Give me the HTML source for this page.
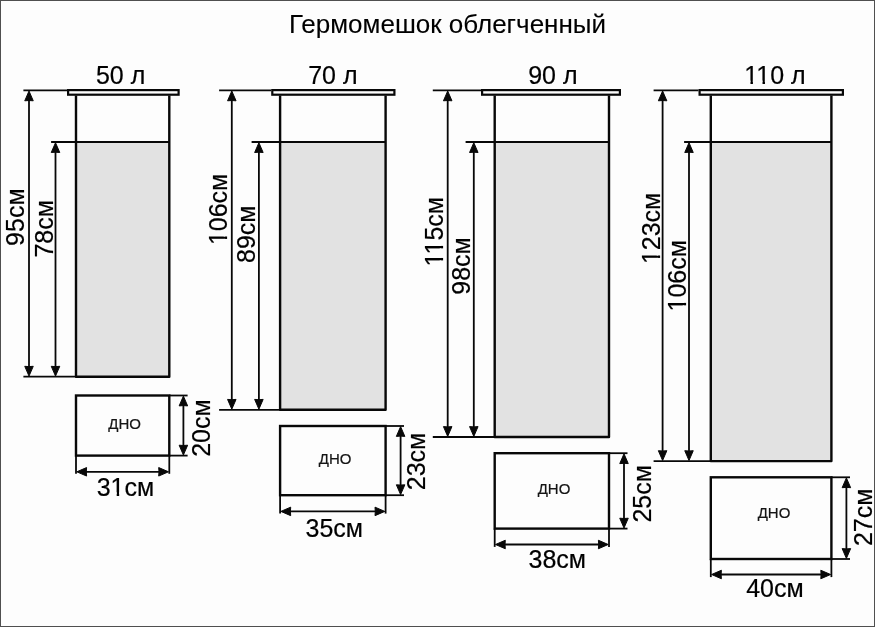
<!DOCTYPE html>
<html><head><meta charset="utf-8"><style>
html,body{margin:0;padding:0;background:#fdfdfd;}
svg{display:block;will-change:transform;}
text{font-family:"Liberation Sans",sans-serif;}
</style></head><body>
<svg width="875" height="627" viewBox="0 0 875 627">
<defs><mask id="m4" maskUnits="userSpaceOnUse" x="-2000" y="-2000" width="4000" height="4000"><rect x="-2000" y="-2000" width="4000" height="4000" fill="#fff"/><rect x="745.01" y="80.53" width="5.46" height="4.47" fill="#000"/><rect x="752.92" y="80.53" width="5.27" height="4.47" fill="#000"/><rect x="757.06" y="80.53" width="5.46" height="4.47" fill="#000"/><rect x="764.97" y="80.53" width="5.27" height="4.47" fill="#000"/></mask><mask id="m7" maskUnits="userSpaceOnUse" x="-2000" y="-2000" width="4000" height="4000"><rect x="-2000" y="-2000" width="4000" height="4000" fill="#fff"/><rect x="-35.00" y="-3.37" width="5.46" height="4.47" fill="#000"/><rect x="-27.09" y="-3.37" width="5.27" height="4.47" fill="#000"/></mask><mask id="m9" maskUnits="userSpaceOnUse" x="-2000" y="-2000" width="4000" height="4000"><rect x="-2000" y="-2000" width="4000" height="4000" fill="#fff"/><rect x="-34.07" y="-3.37" width="5.46" height="4.47" fill="#000"/><rect x="-26.16" y="-3.37" width="5.27" height="4.47" fill="#000"/><rect x="-22.02" y="-3.37" width="5.46" height="4.47" fill="#000"/><rect x="-14.11" y="-3.37" width="5.27" height="4.47" fill="#000"/></mask><mask id="m11" maskUnits="userSpaceOnUse" x="-2000" y="-2000" width="4000" height="4000"><rect x="-2000" y="-2000" width="4000" height="4000" fill="#fff"/><rect x="-35.00" y="-3.37" width="5.46" height="4.47" fill="#000"/><rect x="-27.09" y="-3.37" width="5.27" height="4.47" fill="#000"/></mask><mask id="m12" maskUnits="userSpaceOnUse" x="-2000" y="-2000" width="4000" height="4000"><rect x="-2000" y="-2000" width="4000" height="4000" fill="#fff"/><rect x="-35.00" y="-3.37" width="5.46" height="4.47" fill="#000"/><rect x="-27.09" y="-3.37" width="5.27" height="4.47" fill="#000"/></mask><mask id="m17" maskUnits="userSpaceOnUse" x="-2000" y="-2000" width="4000" height="4000"><rect x="-2000" y="-2000" width="4000" height="4000" fill="#fff"/><rect x="111.24" y="492.23" width="5.46" height="4.47" fill="#000"/><rect x="119.16" y="492.23" width="5.27" height="4.47" fill="#000"/></mask></defs>
<rect x="0" y="0" width="875" height="627" fill="#fdfdfd"/>
<rect x="76" y="141.9" width="93.30000000000001" height="234.79999999999998" fill="#e2e2e2" stroke="none"/><rect x="280.1" y="141.9" width="105.5" height="267.9" fill="#e2e2e2" stroke="none"/><rect x="494.7" y="141.9" width="114.30000000000001" height="295.1" fill="#e2e2e2" stroke="none"/><rect x="710.8" y="141.9" width="120.60000000000002" height="319.20000000000005" fill="#e2e2e2" stroke="none"/>
<g stroke="#080808" fill="#080808">
<rect x="68.1" y="90.1" width="110.49999999999999" height="4.599999999999997" fill="none" stroke-width="2.2"/><path d="M76 95.6V376.7H169.3V95.6" fill="none" stroke-width="2.4" stroke-linejoin="round"/><line x1="23.4" y1="376.7" x2="76" y2="376.7" stroke-width="1.8"/><line x1="51.1" y1="141.9" x2="169.3" y2="141.9" stroke-width="2.0"/><line x1="23.4" y1="90.4" x2="67" y2="90.4" stroke-width="1.8"/><line x1="29" y1="99.2" x2="29" y2="367.9" stroke-width="1.8"/><path d="M29.00 91.00L33.25 100.80L29.00 100.50L24.75 100.80Z"/><path d="M29.00 376.10L24.75 366.30L29.00 366.60L33.25 366.30Z"/><line x1="55.5" y1="150.70000000000002" x2="55.5" y2="367.9" stroke-width="1.8"/><path d="M55.50 142.70L59.75 152.50L55.50 152.20L51.25 152.50Z"/><path d="M55.50 376.10L51.25 366.30L55.50 366.60L59.75 366.30Z"/><rect x="76" y="395.5" width="93.30000000000001" height="60.10000000000002" fill="none" stroke-width="2.4"/><line x1="169.3" y1="395.5" x2="187.6" y2="395.5" stroke-width="1.8"/><line x1="169.3" y1="455.6" x2="187.6" y2="455.6" stroke-width="1.8"/><line x1="183.4" y1="404.3" x2="183.4" y2="446.8" stroke-width="1.8"/><path d="M183.40 396.10L187.65 405.90L183.40 405.60L179.15 405.90Z"/><path d="M183.40 455.00L179.15 445.20L183.40 445.50L187.65 445.20Z"/><line x1="76" y1="455.6" x2="76" y2="473.8" stroke-width="1.8"/><line x1="169.3" y1="455.6" x2="169.3" y2="473.8" stroke-width="1.8"/><line x1="84.8" y1="471.8" x2="160.5" y2="471.8" stroke-width="1.8"/><path d="M76.80 471.80L86.60 467.55L86.30 471.80L86.60 476.05Z"/><path d="M168.50 471.80L158.70 476.05L159.00 471.80L158.70 467.55Z"/><rect x="272.3" y="90.1" width="122.10000000000001" height="4.599999999999997" fill="none" stroke-width="2.2"/><path d="M280.1 95.6V409.8H385.6V95.6" fill="none" stroke-width="2.4" stroke-linejoin="round"/><line x1="219.1" y1="409.8" x2="280.1" y2="409.8" stroke-width="1.8"/><line x1="251.6" y1="141.9" x2="385.6" y2="141.9" stroke-width="2.0"/><line x1="219.1" y1="90.4" x2="271.2" y2="90.4" stroke-width="1.8"/><line x1="231.8" y1="99.2" x2="231.8" y2="401.0" stroke-width="1.8"/><path d="M231.80 91.00L236.05 100.80L231.80 100.50L227.55 100.80Z"/><path d="M231.80 409.20L227.55 399.40L231.80 399.70L236.05 399.40Z"/><line x1="258.9" y1="150.70000000000002" x2="258.9" y2="401.0" stroke-width="1.8"/><path d="M258.90 142.70L263.15 152.50L258.90 152.20L254.65 152.50Z"/><path d="M258.90 409.20L254.65 399.40L258.90 399.70L263.15 399.40Z"/><rect x="280.1" y="426" width="105.5" height="69.19999999999999" fill="none" stroke-width="2.4"/><line x1="385.6" y1="426" x2="404" y2="426" stroke-width="1.8"/><line x1="385.6" y1="495.2" x2="404" y2="495.2" stroke-width="1.8"/><line x1="400.6" y1="434.8" x2="400.6" y2="486.4" stroke-width="1.8"/><path d="M400.60 426.60L404.85 436.40L400.60 436.10L396.35 436.40Z"/><path d="M400.60 494.60L396.35 484.80L400.60 485.10L404.85 484.80Z"/><line x1="280.1" y1="495.2" x2="280.1" y2="513.6" stroke-width="1.8"/><line x1="385.6" y1="495.2" x2="385.6" y2="513.6" stroke-width="1.8"/><line x1="288.90000000000003" y1="511.4" x2="376.8" y2="511.4" stroke-width="1.8"/><path d="M280.90 511.40L290.70 507.15L290.40 511.40L290.70 515.65Z"/><path d="M384.80 511.40L375.00 515.65L375.30 511.40L375.00 507.15Z"/><rect x="482.1" y="90.1" width="137.8" height="4.599999999999997" fill="none" stroke-width="2.2"/><path d="M494.7 95.6V437H609V95.6" fill="none" stroke-width="2.4" stroke-linejoin="round"/><line x1="432.8" y1="437" x2="494.7" y2="437" stroke-width="1.8"/><line x1="465.6" y1="141.9" x2="609" y2="141.9" stroke-width="2.0"/><line x1="432.8" y1="90.4" x2="481" y2="90.4" stroke-width="1.8"/><line x1="447.7" y1="99.2" x2="447.7" y2="428.2" stroke-width="1.8"/><path d="M447.70 91.00L451.95 100.80L447.70 100.50L443.45 100.80Z"/><path d="M447.70 436.40L443.45 426.60L447.70 426.90L451.95 426.60Z"/><line x1="473.8" y1="150.70000000000002" x2="473.8" y2="428.2" stroke-width="1.8"/><path d="M473.80 142.70L478.05 152.50L473.80 152.20L469.55 152.50Z"/><path d="M473.80 436.40L469.55 426.60L473.80 426.90L478.05 426.60Z"/><rect x="494.7" y="453.2" width="114.30000000000001" height="75.40000000000003" fill="none" stroke-width="2.4"/><line x1="609" y1="453.2" x2="627.5" y2="453.2" stroke-width="1.8"/><line x1="609" y1="528.6" x2="627.5" y2="528.6" stroke-width="1.8"/><line x1="624" y1="462.0" x2="624" y2="519.8000000000001" stroke-width="1.8"/><path d="M624.00 453.80L628.25 463.60L624.00 463.30L619.75 463.60Z"/><path d="M624.00 528.00L619.75 518.20L624.00 518.50L628.25 518.20Z"/><line x1="494.7" y1="528.6" x2="494.7" y2="546.9" stroke-width="1.8"/><line x1="609" y1="528.6" x2="609" y2="546.9" stroke-width="1.8"/><line x1="503.5" y1="544.5" x2="600.2" y2="544.5" stroke-width="1.8"/><path d="M495.50 544.50L505.30 540.25L505.00 544.50L505.30 548.75Z"/><path d="M608.20 544.50L598.40 548.75L598.70 544.50L598.40 540.25Z"/><rect x="699.6" y="90.1" width="143.3" height="4.599999999999997" fill="none" stroke-width="2.2"/><path d="M710.8 95.6V461.1H831.4V95.6" fill="none" stroke-width="2.4" stroke-linejoin="round"/><line x1="653.6" y1="461.1" x2="710.8" y2="461.1" stroke-width="1.8"/><line x1="684.1" y1="141.9" x2="831.4" y2="141.9" stroke-width="2.0"/><line x1="653.6" y1="90.4" x2="698.5" y2="90.4" stroke-width="1.8"/><line x1="662.6" y1="99.2" x2="662.6" y2="452.3" stroke-width="1.8"/><path d="M662.60 91.00L666.85 100.80L662.60 100.50L658.35 100.80Z"/><path d="M662.60 460.50L658.35 450.70L662.60 451.00L666.85 450.70Z"/><line x1="689" y1="150.70000000000002" x2="689" y2="452.3" stroke-width="1.8"/><path d="M689.00 142.70L693.25 152.50L689.00 152.20L684.75 152.50Z"/><path d="M689.00 460.50L684.75 450.70L689.00 451.00L693.25 450.70Z"/><rect x="710.8" y="477.3" width="120.60000000000002" height="81.69999999999999" fill="none" stroke-width="2.4"/><line x1="831.4" y1="477.3" x2="850" y2="477.3" stroke-width="1.8"/><line x1="831.4" y1="559" x2="850" y2="559" stroke-width="1.8"/><line x1="846.4" y1="486.1" x2="846.4" y2="550.2" stroke-width="1.8"/><path d="M846.40 477.90L850.65 487.70L846.40 487.40L842.15 487.70Z"/><path d="M846.40 558.40L842.15 548.60L846.40 548.90L850.65 548.60Z"/><line x1="710.8" y1="559" x2="710.8" y2="577.1" stroke-width="1.8"/><line x1="831.4" y1="559" x2="831.4" y2="577.1" stroke-width="1.8"/><line x1="719.5999999999999" y1="574.5" x2="822.6" y2="574.5" stroke-width="1.8"/><path d="M711.60 574.50L721.40 570.25L721.10 574.50L721.40 578.75Z"/><path d="M830.60 574.50L820.80 578.75L821.10 574.50L820.80 570.25Z"/>
</g>
<g fill="#000">
<text x="447.5" y="32.6" font-size="26" text-anchor="middle" fill="#000" stroke="#000" stroke-width="0.1">Гермомешок облегченный</text><text x="120.6" y="83.9" font-size="25" text-anchor="middle" fill="#000" stroke="#000" stroke-width="0.2">50 л</text><text x="332.9" y="83.9" font-size="25" text-anchor="middle" fill="#000" stroke="#000" stroke-width="0.2">70 л</text><text x="552.9" y="83.9" font-size="25" text-anchor="middle" fill="#000" stroke="#000" stroke-width="0.2">90 л</text><text mask="url(#m4)" x="775.0" y="83.9" font-size="25" text-anchor="middle" fill="#000" stroke="#000" stroke-width="0.2">110 л</text><text transform="translate(24.3 217.15) rotate(-90)" font-size="25" text-anchor="middle" stroke="#000" stroke-width="0.2">95см</text><text transform="translate(53 228.85000000000002) rotate(-90)" font-size="25" text-anchor="middle" stroke="#000" stroke-width="0.2">78см</text><text mask="url(#m7)" transform="translate(227.1 209.39999999999998) rotate(-90)" font-size="25" text-anchor="middle" stroke="#000" stroke-width="0.2">106см</text><text transform="translate(254.9 234.2) rotate(-90)" font-size="25" text-anchor="middle" stroke="#000" stroke-width="0.2">89см</text><text mask="url(#m9)" transform="translate(443.1 231.8) rotate(-90)" font-size="25" text-anchor="middle" stroke="#000" stroke-width="0.2">115см</text><text transform="translate(470 265.95) rotate(-90)" font-size="25" text-anchor="middle" stroke="#000" stroke-width="0.2">98см</text><text mask="url(#m11)" transform="translate(660.1 228.39999999999998) rotate(-90)" font-size="25" text-anchor="middle" stroke="#000" stroke-width="0.2">123см</text><text mask="url(#m12)" transform="translate(686.1 275.8) rotate(-90)" font-size="25" text-anchor="middle" stroke="#000" stroke-width="0.2">106см</text><text transform="translate(210.2 428.05) rotate(-90)" font-size="25" text-anchor="middle" stroke="#000" stroke-width="0.2">20см</text><text transform="translate(425 461.45) rotate(-90)" font-size="25" text-anchor="middle" stroke="#000" stroke-width="0.2">23см</text><text transform="translate(650.9 493.8) rotate(-90)" font-size="25" text-anchor="middle" stroke="#000" stroke-width="0.2">25см</text><text transform="translate(872.1 517.35) rotate(-90)" font-size="25" text-anchor="middle" stroke="#000" stroke-width="0.2">27см</text><text mask="url(#m17)" x="125.4" y="495.6" font-size="25" text-anchor="middle" fill="#000" stroke="#000" stroke-width="0.2">31см</text><text x="334.3" y="537.2" font-size="25" text-anchor="middle" fill="#000" stroke="#000" stroke-width="0.2">35см</text><text x="557.3" y="568.2" font-size="25" text-anchor="middle" fill="#000" stroke="#000" stroke-width="0.2">38см</text><text x="774.9" y="596.5" font-size="25" text-anchor="middle" fill="#000" stroke="#000" stroke-width="0.2">40см</text><text x="124.65" y="429" font-size="15" text-anchor="middle" fill="#151515" stroke="#151515" stroke-width="0.2">ДНО</text><text x="335.1" y="463.9" font-size="15" text-anchor="middle" fill="#151515" stroke="#151515" stroke-width="0.2">ДНО</text><text x="554.05" y="494.2" font-size="15" text-anchor="middle" fill="#151515" stroke="#151515" stroke-width="0.2">ДНО</text><text x="774.05" y="517.7" font-size="15" text-anchor="middle" fill="#151515" stroke="#151515" stroke-width="0.2">ДНО</text>
</g>
<rect x="0.5" y="0.5" width="874" height="626" fill="none" stroke="#4f4f4f" stroke-width="1"/>
</svg>
</body></html>
